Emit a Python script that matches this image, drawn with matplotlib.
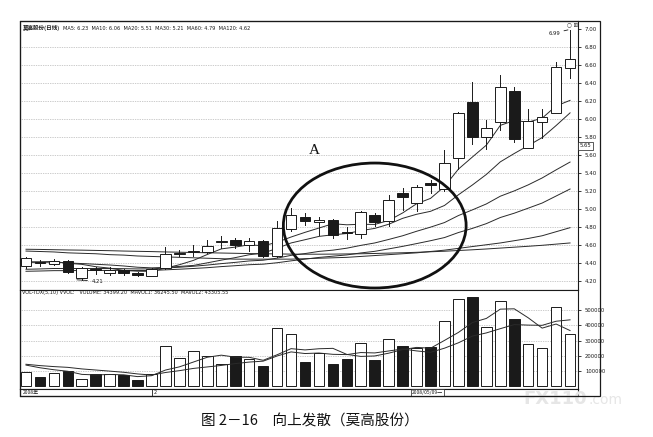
import matplotlib
matplotlib.use("Agg")
import matplotlib.pyplot as plt
from matplotlib.patches import Ellipse, Rectangle

# ---------------- data ----------------
opens  = [4.36, 4.41, 4.39, 4.42, 4.23, 4.33, 4.29, 4.32, 4.29, 4.25,
          4.34, 4.50, 4.52, 4.52, 4.63, 4.65, 4.60, 4.64, 4.47, 4.78,
          4.91, 4.85, 4.88, 4.74, 4.72, 4.93, 4.86, 5.18, 5.07, 5.29,
          5.22, 5.57, 6.19, 5.80, 5.97, 6.31, 5.68, 5.96, 6.07, 6.57]
highs  = [4.46, 4.43, 4.44, 4.43, 4.35, 4.35, 4.35, 4.33, 4.30, 4.34,
          4.58, 4.54, 4.60, 4.65, 4.70, 4.68, 4.67, 4.65, 4.86, 5.01,
          4.95, 4.91, 4.89, 4.80, 4.97, 4.95, 5.15, 5.23, 5.26, 5.32,
          5.65, 6.08, 6.41, 5.99, 6.49, 6.36, 6.11, 6.11, 6.63, 6.99]
lows   = [4.34, 4.36, 4.38, 4.29, 4.21, 4.28, 4.26, 4.26, 4.25, 4.25,
          4.33, 4.47, 4.47, 4.51, 4.56, 4.56, 4.53, 4.46, 4.46, 4.75,
          4.82, 4.71, 4.68, 4.66, 4.68, 4.81, 4.81, 4.99, 4.97, 5.18,
          5.20, 5.44, 5.72, 5.67, 5.88, 5.74, 5.68, 5.79, 6.07, 6.45]
closes = [4.45, 4.40, 4.42, 4.30, 4.34, 4.32, 4.32, 4.29, 4.26, 4.33,
          4.50, 4.51, 4.53, 4.59, 4.64, 4.60, 4.64, 4.47, 4.79, 4.93,
          4.86, 4.88, 4.71, 4.73, 4.96, 4.85, 5.10, 5.13, 5.24, 5.26,
          5.51, 6.07, 5.80, 5.90, 6.36, 5.78, 5.98, 6.02, 6.58, 6.67]

ma5   = [4.41, 4.41, 4.414, 4.394, 4.382, 4.356, 4.34, 4.314, 4.306, 4.304,
         4.34, 4.378, 4.426, 4.492, 4.554, 4.574, 4.60, 4.588, 4.628, 4.686,
         4.738, 4.786, 4.834, 4.822, 4.828, 4.826, 4.87, 4.954, 5.056, 5.116,
         5.248, 5.442, 5.576, 5.708, 5.928, 5.982, 5.964, 6.008, 6.144, 6.206]
ma10  = [4.405, 4.405, 4.407, 4.397, 4.391, 4.383, 4.375, 4.364, 4.35, 4.343,
         4.348, 4.359, 4.37, 4.399, 4.429, 4.457, 4.489, 4.507, 4.56, 4.62,
         4.656, 4.693, 4.711, 4.725, 4.757, 4.782, 4.828, 4.894, 4.939, 4.972,
         5.037, 5.156, 5.265, 5.382, 5.522, 5.615, 5.703, 5.792, 5.926, 6.067]
ma20  = [4.327, 4.331, 4.336, 4.335, 4.336, 4.336, 4.336, 4.334, 4.331, 4.332,
         4.341, 4.35, 4.361, 4.374, 4.39, 4.404, 4.42, 4.428, 4.451, 4.482,
         4.502, 4.526, 4.54, 4.562, 4.593, 4.62, 4.659, 4.70, 4.75, 4.796,
         4.847, 4.925, 4.988, 5.054, 5.14, 5.199, 5.266, 5.343, 5.433, 5.52]
ma30  = [4.305, 4.308, 4.312, 4.312, 4.314, 4.314, 4.315, 4.315, 4.313, 4.314,
         4.321, 4.328, 4.336, 4.345, 4.357, 4.367, 4.378, 4.384, 4.40, 4.421,
         4.44, 4.459, 4.473, 4.487, 4.509, 4.527, 4.554, 4.582, 4.613, 4.645,
         4.68, 4.736, 4.782, 4.835, 4.903, 4.951, 5.007, 5.064, 5.142, 5.22]
ma60  = [4.53, 4.525, 4.52, 4.51, 4.505, 4.50, 4.49, 4.485, 4.475, 4.47,
         4.465, 4.46, 4.455, 4.45, 4.445, 4.44, 4.44, 4.44, 4.44, 4.44,
         4.445, 4.45, 4.455, 4.46, 4.47, 4.48, 4.49, 4.50, 4.51, 4.525,
         4.54, 4.56, 4.58, 4.60, 4.62, 4.645, 4.67, 4.70, 4.745, 4.79]
ma120 = [4.55, 4.548, 4.545, 4.542, 4.54, 4.537, 4.534, 4.53, 4.527, 4.524,
         4.52, 4.517, 4.514, 4.511, 4.508, 4.505, 4.502, 4.50, 4.498, 4.496,
         4.495, 4.495, 4.496, 4.498, 4.50, 4.503, 4.507, 4.511, 4.516, 4.522,
         4.528, 4.536, 4.544, 4.553, 4.563, 4.573, 4.583, 4.594, 4.607, 4.62]

volumes = [96000, 63000, 85000, 100000, 48000, 78000, 78000, 74000, 41000, 78000,
           263000, 183000, 231000, 198000, 146000, 198000, 178000, 133000, 379000, 346000,
           157000, 216000, 146000, 180000, 281000, 172000, 307000, 263000, 252000, 255000,
           427000, 569000, 586000, 386000, 559000, 438000, 275000, 248000, 520000, 346000]
mavol1 = [139200, 121800, 108800, 98800, 78400, 74800, 77800, 75600, 63800, 69800,
          106800, 127800, 159200, 190600, 204200, 191200, 190200, 170600, 206800, 246800,
          238600, 246200, 248800, 209000, 196000, 199000, 217200, 240600, 255000, 249800,
          300800, 353200, 417800, 444600, 505400, 507600, 448800, 381200, 408000, 365400]
mavol2 = [144600, 135900, 129400, 124400, 114200, 107000, 99800, 92200, 81300, 74100,
          90800, 102800, 117400, 127200, 137000, 149000, 159000, 164900, 198700, 225500,
          214900, 218200, 209700, 207900, 221400, 218800, 231700, 244700, 232000, 222900,
          249900, 285200, 329200, 349800, 377600, 404200, 401000, 399500, 426300, 435400]

price_ticks = [4.20, 4.40, 4.60, 4.80, 5.00, 5.20, 5.40, 5.60, 5.80, 6.00, 6.20, 6.40, 6.60, 6.80, 7.00]
vol_ticks = [100000, 200000, 300000, 400000, 500000]

title_name = "莫高股份(日线)"
title_ma = "MA5: 6.23  MA10: 6.06  MA20: 5.51  MA30: 5.21  MA60: 4.79  MA120: 4.62"
vol_title = "VOL-TDX(5,10) VVOL:   VOLUME: 34399.20  MAVOL1: 36245.50  MAVOL2: 43305.55"
caption = "图 2－16　向上发散（莫高股份）"

# ---------------- figure ----------------
W, H = 653, 437
fig = plt.figure(figsize=(W / 100, H / 100), dpi=100)
fig.patch.set_facecolor("white")

def frac(x0, y0, x1, y1):
    return [x0 / W, 1 - y1 / H, (x1 - x0) / W, (y1 - y0) / H]

XL, XR = 20.5, 578
ax = fig.add_axes(frac(XL, 20.5, XR, 289.5))
axv = fig.add_axes(frac(XL, 289.5, XR, 388.5))
axd = fig.add_axes(frac(XL, 388.5, XR, 396))

n = len(closes)
xs = list(range(n))
xlim = (-0.394, 39.57)
ink = "#1a1a1a"
bw = 0.76

# price panel
for p in price_ticks[:-1]:
    ax.axhline(p, color="#9a9a9a", lw=0.5, ls=(0, (1, 1.5)), zorder=0)
for i in xs:
    o, c, h, l = opens[i], closes[i], highs[i], lows[i]
    top, bot = max(o, c), min(o, c)
    ax.plot([i, i], [top, h], color=ink, lw=0.7, zorder=3)
    ax.plot([i, i], [l, bot], color=ink, lw=0.7, zorder=3)
    down = c < o
    ax.bar(i, max(top - bot, 0.002), bottom=bot, width=bw,
           color=ink if down else "white", edgecolor=ink, linewidth=0.7, zorder=4)
for ma in (ma5, ma10, ma20, ma30, ma60, ma120):
    ax.plot(xs, ma, color="#2a2a2a", lw=0.7, zorder=2)

ax.set_xlim(*xlim)
ax.set_ylim(4.1023, 7.0945)
ax.set_xticks([])
ax.yaxis.tick_right()
ax.set_yticks(price_ticks)
ax.set_yticklabels([f"{p:.2f}" for p in price_ticks], fontsize=4, color=ink)
ax.tick_params(axis="y", length=2, width=0.6, pad=3, colors=ink)
for s in ax.spines.values():
    s.set_linewidth(0.8)
    s.set_color(ink)

ax.text(0.004, 0.972, title_name, transform=ax.transAxes, fontsize=4.0,
        family=["Noto Sans CJK SC", "DejaVu Sans"], fontweight="bold",
        ha="left", va="center", color=ink)
ax.text(0.077, 0.972, title_ma, transform=ax.transAxes, fontsize=3.6,
        family=["DejaVu Sans"], ha="left", va="center", color=ink)

# annotations
ax.annotate("6.99", xy=(38.85, highs[39]), xytext=(37.85, 6.955), fontsize=3.8,
            ha="center", va="center", color=ink,
            arrowprops=dict(arrowstyle="-", lw=0.6, color=ink, shrinkA=1, shrinkB=0))
ax.annotate("4.21", xy=(3.65, lows[4]), xytext=(4.7, 4.195), fontsize=3.8,
            ha="left", va="center", color=ink,
            arrowprops=dict(arrowstyle="-", lw=0.6, color=ink, shrinkA=1, shrinkB=0))
ax.add_patch(Ellipse((25.0, 4.814), 13.1, 1.39, fill=False, lw=2.0, ec="#111111", zorder=6))
ax.text(20.65, 5.65, "A", fontsize=11, family=["Liberation Serif", "DejaVu Serif"],
        ha="center", va="center", color="#111111")
ax.text(1.003, 5.70, "5.65", transform=ax.get_yaxis_transform(), fontsize=3.8,
        ha="left", va="center", color=ink,
        bbox=dict(boxstyle="square,pad=0.25", fc="white", ec=ink, lw=0.5))
ax.text(0.99, 0.993, "○ ⊞", transform=ax.transAxes, fontsize=4, ha="center", va="top",
        color="#333333", family=["DejaVu Sans"])

# volume panel
for v in vol_ticks:
    axv.axhline(v, color="#9a9a9a", lw=0.5, ls=(0, (1, 1.5)), zorder=0)
vcolors = [ink if closes[i] < opens[i] else "white" for i in xs]
axv.bar(xs, volumes, width=bw, color=vcolors, edgecolor=ink, linewidth=0.7, zorder=3)
axv.plot(xs, mavol1, color="#2a2a2a", lw=0.7, zorder=4)
axv.plot(xs, mavol2, color="#2a2a2a", lw=0.7, zorder=4)
axv.set_xlim(*xlim)
axv.set_ylim(-14000, 634000)
axv.set_xticks([])
axv.yaxis.tick_right()
axv.set_yticks(vol_ticks)
axv.set_yticklabels([str(v) for v in vol_ticks], fontsize=3.8, color=ink)
axv.tick_params(axis="y", length=2, width=0.6, pad=3, colors=ink)
for s in axv.spines.values():
    s.set_linewidth(0.8)
    s.set_color(ink)
axv.text(0.002, 0.965, vol_title, transform=axv.transAxes, fontsize=3.6,
         ha="left", va="center", color=ink)

# date bar
axd.set_xlim(*xlim)
axd.set_ylim(0, 1)
axd.set_xticks([])
axd.set_yticks([])
for s in axd.spines.values():
    s.set_linewidth(0.8)
    s.set_color(ink)
axd.text(0.004, 0.5, "2008年", transform=axd.transAxes, fontsize=3.6,
         family=["Noto Sans CJK SC", "DejaVu Sans"], ha="left", va="center", color=ink)
axd.plot([9.0, 9.0], [0, 1], color=ink, lw=0.6)
axd.text(9.15, 0.5, "2", fontsize=3.6, ha="left", va="center", color=ink)
axd.text(28.8, 0.5, "2008/05/09一", fontsize=3.6, ha="center", va="center", color=ink,
         family=["Noto Sans CJK SC", "DejaVu Sans"],
         bbox=dict(boxstyle="square,pad=0.15", fc="white", ec=ink, lw=0.5))

# outer frame incl. right label strip
fig.patches.append(Rectangle((XL / W, 1 - 396 / H), (600 - XL) / W, (396 - 20.5) / H,
                             transform=fig.transFigure, fill=False, lw=0.9, ec=ink))

# watermark
fig.text(587 / W, 1 - 399 / H, "FX110", fontsize=13, fontweight="bold",
         color="#e6e6e6", ha="right", va="center", zorder=0)
fig.text(588 / W, 1 - 400 / H, ".com", fontsize=10, color="#e6e6e6",
         ha="left", va="center", zorder=0)

# caption
fig.text(310 / W, 1 - 421 / H, caption, fontsize=10.5,
         family=["Noto Sans CJK SC", "DejaVu Sans"], ha="center", va="center", color="#111111")

fig.savefig("out.png", dpi=100, facecolor="white")
